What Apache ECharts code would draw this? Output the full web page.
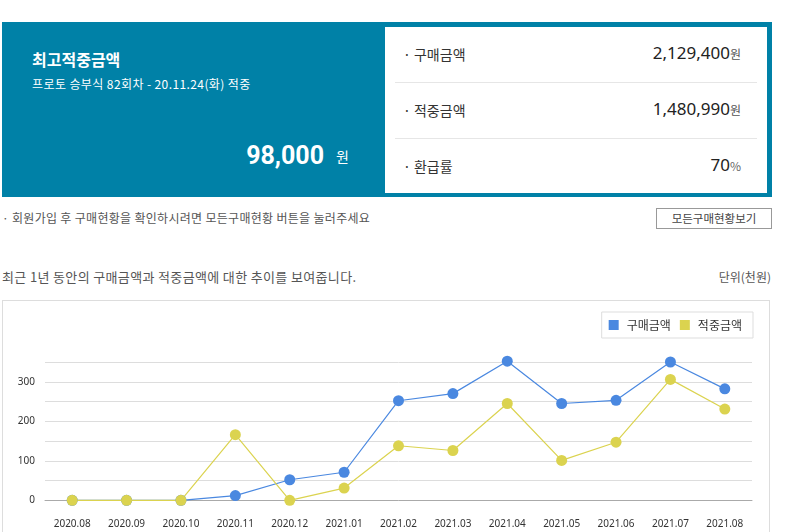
<!DOCTYPE html>
<html><head><meta charset="utf-8">
<script src="https://cdn.jsdelivr.net/npm/echarts@6/dist/echarts.min.js"></script>
<style>
html,body{margin:0;padding:0;width:788px;height:532px;overflow:hidden;background:#fff;font-family:"Noto Sans CJK KR","Noto Sans",sans-serif;}
.abs{position:absolute;white-space:nowrap;}
#hdr{position:absolute;left:2px;top:22px;width:770px;height:175px;background:#0081a7;}
#box{position:absolute;left:385px;top:27px;width:382px;height:166px;background:#fff;}
.sep{position:absolute;left:395px;width:362px;height:1px;background:#e6e6e6;}
#chart{position:absolute;left:2px;top:300px;width:768px;height:240px;border:1px solid #ddd;box-sizing:border-box;}
.val{position:absolute;white-space:nowrap;right:47px;font-size:17px;color:#222;font-family:'Noto Sans',sans-serif;}
.val span{font-size:12px;color:#555;font-family:'Noto Sans CJK KR',sans-serif;}
</style></head><body>
<div id="hdr"></div>
<div id="box"></div>
<div class="abs" style="left:32px;top:47px;font-size:16px;font-weight:bold;color:#fff;">최고적중금액</div>
<div class="abs" style="left:32px;top:75px;font-size:12px;color:#fff;letter-spacing:0.4px;">프로토 승부식 82회차 - 20.11.24(화) 적중</div>
<div class="abs" style="right:464px;top:139px;font-size:25px;font-weight:bold;color:#fff;font-family:Roboto,'Noto Sans',sans-serif;line-height:34px;">98,000</div>
<div class="abs" style="left:336px;top:146px;font-size:14px;color:#fff;">원</div>

<div class="abs" style="left:403px;top:44px;font-size:14px;color:#333;">· 구매금액</div>
<div class="val" style="top:41px;">2,129,400<span>원</span></div>
<div class="sep" style="top:82px;"></div>
<div class="abs" style="left:403px;top:100px;font-size:14px;color:#333;">· 적중금액</div>
<div class="val" style="top:97px;">1,480,990<span>원</span></div>
<div class="sep" style="top:138px;"></div>
<div class="abs" style="left:403px;top:156px;font-size:14px;color:#333;">· 환급률</div>
<div class="val" style="top:153px;">70<span style="color:#666;">%</span></div>

<div class="abs" style="left:2px;top:209px;font-size:12px;color:#555;letter-spacing:0.3px;">· 회원가입 후 구매현황을 확인하시려면 모든구매현황 버튼을 눌러주세요</div>
<div class="abs" style="left:656px;top:208px;width:116px;height:21px;border:1px solid #999;box-sizing:border-box;font-size:11.5px;color:#444;text-align:center;line-height:19px;">모든구매현황보기</div>
<div class="abs" style="left:2px;top:267px;font-size:13px;color:#555;letter-spacing:0.35px;">최근 1년 동안의 구매금액과 적중금액에 대한 추이를 보여줍니다.</div>
<div class="abs" style="right:17px;top:268px;font-size:12px;color:#555;">단위(천원)</div>

<div id="chart"></div>
<script>
const months = ['2020.08','2020.09','2020.10','2020.11','2020.12','2021.01','2021.02','2021.03','2021.04','2021.05','2021.06','2021.07','2021.08'];
const purchase = [0,0,0,12,52,71,252,270,352,245,253,350,282];
const winnings = [0,0,0,166,0,31,138,126,245,101,147,306,231];
const seriesNames = ['구매금액','적중금액'];
const colors = ['#4a88e0','#dbd34f'];

const chart = echarts.init(document.getElementById('chart'));
chart.setOption({
  animation:false,
  textStyle:{fontFamily:"'Noto Sans','Noto Sans CJK KR',sans-serif"},
  grid:{left:42,right:17,top:61,bottom:38.7},
  legend:{
    right:16,top:11,
    data:seriesNames,
    icon:'rect',itemWidth:10,itemHeight:10,itemGap:9,
    padding:[7,11,7,7],
    borderColor:'#ddd',borderWidth:1,
    textStyle:{fontSize:12,color:'#333',padding:[0,0,0,3],fontFamily:"'Noto Sans CJK KR',sans-serif"}
  },
  xAxis:{
    type:'category',data:months,boundaryGap:true,offset:10,
    axisLine:{lineStyle:{color:'#aaa'}},
    axisTick:{show:false},
    axisLabel:{fontSize:10,color:'#333',margin:9,interval:0}
  },
  yAxis:{
    type:'value',min:0,max:350,interval:50,
    axisLine:{show:false},axisTick:{show:false},
    splitLine:{lineStyle:{color:'#ddd'}},
    axisLabel:{fontSize:10,color:'#333',margin:10,formatter:v=>v%100===0?String(v):''}
  },
  series:[
    {name:seriesNames[0],type:'line',data:purchase,symbol:'circle',symbolSize:11,clip:false,
     itemStyle:{color:colors[0]},lineStyle:{width:1.2,color:colors[0]}},
    {name:seriesNames[1],type:'line',data:winnings,symbol:'circle',symbolSize:11,clip:false,
     itemStyle:{color:colors[1]},lineStyle:{width:1.2,color:colors[1]}}
  ]
});
</script>
</body></html>
